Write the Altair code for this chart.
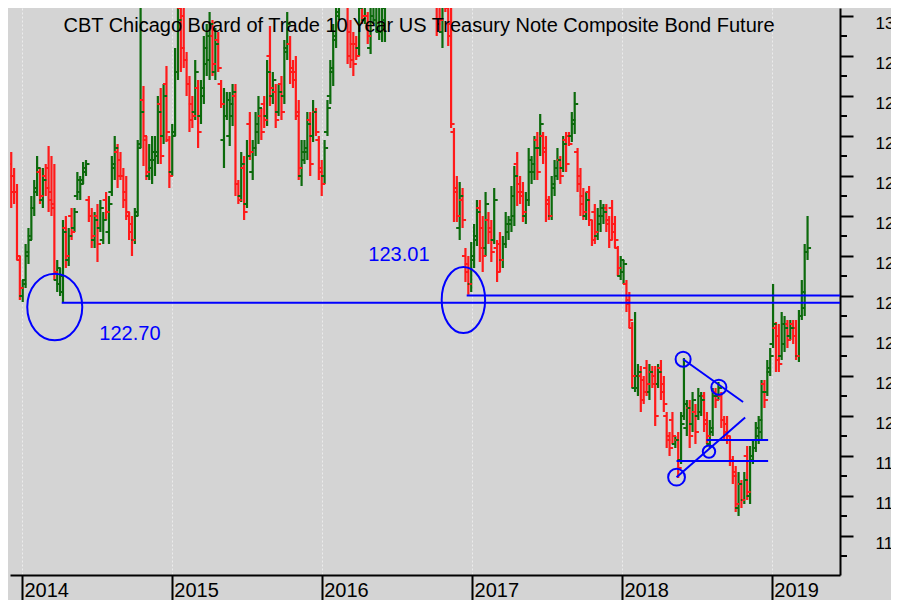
import altair as alt
import pandas as pd

# ---------------- weekly OHLC values ----------------
high = [126.6,126.2,125.8,124.0,123.4,124.3,124.7,125.5,125.9,126.5,
        126.2,126.2,126.3,126.75,126.5,126.3,123.9,123.7,124.9,125.0,
        124.7,125.2,125.2,126.1,126.0,126.35,126.4,125.5,125.2,125.1,
        125.3,125.4,125.1,125.6,125.5,126.5,127.0,126.8,126.6,126.2,
        126.0,125.1,125.0,125.2,126.9,130.6,128.25,127.0,126.8,127.0,
        127.0,128.0,128.2,128.3,128.75,127.0,127.3,129.2,130.6,130.8,
        130.7,129.1,128.5,128.0,128.9,128.4,128.4,129.5,129.8,130.1,
        129.9,129.7,129.6,128.4,128.2,128.1,128.1,128.3,128.3,125.9,
        126.6,126.5,126.9,127.6,126.9,127.6,128.0,127.7,128.0,128.9,
        129.75,128.6,128.3,128.3,128.5,129.4,130.1,129.5,128.9,129.0,
        127.9,126.9,126.9,127.6,127.6,127.9,127.7,127.0,126.4,126.9,
        127.9,128.9,129.8,130.4,131.0,131.2,131.5,130.6,129.9,129.6,
        129.5,130.5,130.6,130.8,130.1,130.25,130.7,131.0,130.8,130.5,
        131.2,131.8,132.0,131.6,131.5,132.4,132.8,134.0,134.6,134.4,
        133.6,133.5,133.4,133.1,132.6,132.9,132.8,132.0,131.0,130.7,
        130.8,130.9,130.35,130.3,127.2,126.0,125.85,125.7,124.2,124.0,
        124.35,124.8,125.4,125.4,125.0,125.6,125.1,124.9,125.7,124.4,
        124.6,124.5,125.1,125.0,125.75,126.25,126.6,126.0,125.85,125.6,
        126.7,126.5,127.0,127.1,127.55,127.1,127.0,125.5,126.0,126.4,
        126.7,126.5,127.0,127.1,127.1,127.6,128.1,126.7,126.2,125.7,
        125.6,125.75,124.9,125.3,125.2,125.4,125.3,125.3,125.0,125.4,
        125.0,124.25,124.0,123.9,123.4,123.1,122.35,122.6,121.3,121.25,
        121.0,121.4,121.3,121.25,121.25,121.3,121.4,121.0,120.1,119.6,
        120.1,119.5,119.6,120.1,121.45,120.4,120.4,120.6,120.3,120.7,
        120.6,120.6,120.1,119.9,120.7,120.7,120.85,120.6,120.0,120.0,
        119.5,119.0,118.75,118.6,118.4,118.6,119.25,119.25,119.4,119.85,
        120.0,120.9,120.9,121.4,121.7,123.3,122.35,122.3,122.6,122.5,
        122.4,122.4,122.4,122.4,122.65,123.4,124.3,125.0]
low = [125.2,125.3,123.9,122.9,122.85,123.2,123.8,124.4,125.0,125.5,
       125.3,125.2,125.5,125.1,125.0,123.4,123.1,123.0,122.85,123.7,
       123.75,124.4,124.6,125.4,125.4,125.8,126.0,124.85,124.2,124.2,
       123.85,124.6,124.3,124.9,124.3,125.5,125.9,125.7,125.9,125.2,
       124.9,124.4,124.0,124.3,125.0,126.7,126.25,125.9,125.9,125.8,
       126.0,126.3,126.3,126.8,126.85,125.7,126.0,127.0,128.4,128.6,
       128.7,128.0,127.1,127.2,127.4,126.7,127.3,127.8,128.5,128.4,
       128.5,128.4,128.6,127.7,126.2,127.4,126.75,127.25,125.5,125.3,
       125.35,124.9,125.2,126.4,125.9,126.5,126.8,126.9,127.2,127.25,
       127.75,127.8,127.2,127.5,127.4,127.8,128.9,128.3,128.2,127.4,
       125.9,125.75,126.3,126.4,126.0,126.85,127.0,125.9,125.5,125.8,
       127.0,127.8,128.25,129.2,129.9,130.3,130.4,128.8,128.7,128.5,
       128.9,129.0,129.8,129.8,129.3,129.05,129.8,129.6,129.4,129.35,
       129.35,130.6,130.9,130.7,130.6,131.1,131.8,132.1,133.1,133.0,
       132.6,132.4,132.4,131.9,131.6,131.8,131.6,130.8,129.5,129.6,
       129.2,130.1,129.25,127.2,124.85,124.85,124.4,124.7,123.35,123.03,
       123.1,123.7,124.25,123.85,123.6,124.0,124.3,123.85,124.3,123.35,
       123.6,123.7,124.2,124.4,124.6,124.75,125.25,125.3,124.85,124.8,
       125.25,125.8,125.9,125.9,126.5,126.3,124.85,124.9,124.9,125.5,
       125.9,125.8,126.1,126.1,126.75,126.85,127.05,125.6,125.0,124.9,
       124.9,124.75,124.25,124.3,124.4,124.6,124.8,124.6,124.2,124.4,
       124.2,123.5,123.4,123.3,122.6,122.2,120.7,120.6,120.5,120.1,
       120.3,120.5,120.4,120.7,119.75,120.7,120.4,120.1,119.2,119.0,
       119.3,119.2,118.45,118.8,119.9,119.5,119.2,119.6,119.3,119.9,
       120.0,119.6,119.3,119.2,119.5,120.2,120.4,119.7,119.4,119.3,
       118.75,118.3,117.6,117.5,117.7,117.8,117.9,117.8,118.8,119.1,
       119.3,119.4,120.2,120.5,121.0,121.7,121.1,121.1,121.4,121.6,
       121.7,121.9,121.8,121.4,121.35,122.4,122.5,123.9]
open_ = [126.3,126.0,125.6,123.9,123.0,123.4,124.0,124.5,125.2,125.6,
         126.1,125.4,126.0,126.2,125.6,125.3,123.4,123.3,123.1,124.7,
         123.9,125.0,124.7,125.5,125.6,125.9,126.1,125.4,125.0,124.4,
         125.0,124.7,124.4,125.4,124.6,125.6,126.2,126.6,126.4,126.0,
         125.6,125.0,124.8,124.4,125.1,126.8,127.9,126.9,126.0,126.2,
         126.4,126.5,127.8,127.0,128.3,126.9,126.1,127.1,128.6,130.2,
         130.0,128.9,128.3,127.8,127.6,128.2,127.5,128.0,128.8,128.9,
         129.5,128.6,129.4,128.3,126.9,127.5,127.0,127.5,128.0,125.8,
         125.5,126.2,125.3,127.3,126.1,126.7,127.1,127.5,127.8,127.5,
         129.0,128.0,128.1,127.6,128.3,128.0,129.2,129.3,128.7,128.6,
         127.5,126.0,126.4,126.6,127.4,127.0,127.6,126.9,126.2,126.0,
         127.1,128.0,128.6,129.4,130.0,130.5,131.2,130.4,129.6,129.3,
         129.3,129.2,130.4,129.9,130.0,129.2,130.0,129.9,129.6,129.6,
         129.9,130.9,131.5,131.2,130.9,131.3,132.2,132.5,133.6,134.2,
         133.3,133.1,132.8,133.0,132.1,132.3,132.6,131.8,130.9,130.3,
         129.6,130.6,130.2,129.8,127.1,125.7,124.7,125.4,124.0,123.8,
         123.3,123.9,124.4,125.2,124.7,124.2,124.9,124.7,124.4,124.2,
         124.3,123.9,124.3,124.6,124.8,125.0,126.3,125.8,125.6,125.0,
         125.4,126.1,126.1,126.9,126.7,127.0,126.7,125.4,125.0,125.7,
         126.0,126.4,126.2,126.9,127.0,127.0,127.3,126.6,126.0,125.5,
         125.0,125.6,124.9,125.1,124.5,124.8,125.0,125.2,124.9,125.2,
         124.8,124.2,123.5,123.6,123.3,122.9,122.2,120.7,120.7,121.0,
         120.9,121.2,120.6,121.1,121.0,120.8,121.2,120.8,120.0,119.5,
         119.9,119.3,119.4,118.9,120.0,119.7,120.2,119.8,120.1,120.0,
         120.1,120.5,119.9,119.3,119.6,120.6,120.5,120.5,119.9,119.8,
         119.4,118.9,118.6,117.7,118.3,117.9,119.0,118.0,118.9,119.2,
         119.5,119.6,120.8,120.6,121.1,121.8,122.2,122.0,121.5,121.8,
         122.3,122.0,122.3,122.2,121.5,122.5,122.7,124.1]
close = [125.6,125.6,124.0,123.2,123.3,124.1,124.4,125.2,125.7,126.2,
         125.5,125.9,125.7,125.4,125.2,123.6,123.7,123.5,124.6,124.0,
         124.5,124.6,125.1,125.9,125.8,126.2,126.3,125.0,124.5,124.9,
         124.3,125.2,124.9,125.1,125.3,126.3,126.7,126.0,126.0,125.4,
         125.1,124.6,124.4,125.0,126.7,127.6,127.0,126.1,126.4,126.6,
         126.6,127.6,126.5,128.0,127.1,126.0,127.0,128.6,129.9,129.2,
         128.9,128.3,127.4,127.5,128.6,127.1,128.2,129.2,129.5,129.8,
         128.8,129.3,128.7,127.8,127.5,127.9,127.8,128.1,125.8,125.4,
         126.3,125.1,126.5,126.6,126.7,127.3,127.7,127.1,127.4,128.6,
         128.2,128.4,127.4,128.1,127.6,129.1,129.8,128.6,128.4,127.6,
         126.2,126.6,126.7,127.3,126.3,127.6,127.1,126.1,125.8,126.7,
         127.7,128.7,129.5,130.1,130.7,131.0,130.6,129.0,128.9,128.8,
         129.0,130.2,130.0,130.5,129.5,130.0,130.5,130.8,130.4,130.2,
         130.9,131.5,131.2,130.9,131.3,132.2,132.5,133.6,134.2,133.3,
         133.1,132.8,133.0,132.1,132.3,132.6,131.8,131.1,129.8,129.9,
         130.5,130.3,129.5,127.3,125.6,125.0,125.5,124.9,123.6,123.3,
         124.0,124.5,125.1,124.2,124.0,125.3,124.6,124.1,125.4,123.6,
         123.9,124.3,124.8,124.9,125.5,126.0,125.6,125.5,125.1,125.4,
         126.4,126.3,126.7,126.1,127.3,126.6,125.3,125.0,125.8,126.2,
         126.4,126.0,126.8,126.3,126.8,127.4,127.8,125.8,125.3,125.1,
         125.4,124.9,124.4,124.6,125.0,125.2,125.1,124.8,124.4,124.6,
         124.4,123.7,123.9,123.8,122.8,122.4,121.0,121.0,121.1,120.4,
         120.6,120.8,121.1,120.8,120.0,121.1,120.6,120.3,119.4,119.2,
         119.5,119.4,118.7,119.8,120.3,120.2,119.5,120.4,119.6,120.5,
         120.4,119.8,119.5,119.7,120.5,120.4,120.7,119.9,119.6,119.5,
         118.9,118.5,117.8,118.3,117.9,118.4,118.1,119.0,119.2,119.7,
         119.9,120.6,120.4,121.2,121.5,122.3,121.4,121.3,122.3,122.2,
         121.9,122.2,122.0,121.5,122.5,123.1,124.1,124.2]
first_week = "2013-12-06"

# ---------------- annotations ----------------
title_text = "CBT Chicago Board of Trade 10 Year US Treasury Note Composite Bond Future"
seg_x = ["2016-12-19", "2014-04-08", "2018-05-30", "2018-05-14", "2018-07-26", "2018-05-14"]
seg_x2 = ["2019-06-16", "2019-06-16", "2018-10-23", "2018-10-28", "2018-12-23", "2018-12-23"]
seg_y = [123.01, 122.83, 121.42, 118.47, 119.40, 118.875]
seg_y2 = [123.01, 122.83, 120.35, 119.96, 119.40, 118.875]
label_text = ["123.01", "122.70"]
label_date = ["2016-07-07", "2014-09-21"]
label_value = [124.035, 122.04]
ell_date = ["2014-03-22", "2016-12-11"]
ell_value = [122.725, 122.90]
circ_date = ["2018-05-30", "2018-08-25", "2018-05-14", "2018-08-01"]
circ_value = [121.42, 120.72, 118.47, 119.11]
circ_size = [227, 227, 283, 154]
year_ticks = [2014, 2015, 2016, 2017, 2018, 2019]
major_ticks = list(range(117, 131))
minor_ticks = [116.5 + k for k in range(14)]
axis_end_date = "2019-06-16"

BG = "#d4d4d4"
RED = "#ff1a1a"
GREEN = "#0c6a0c"
BLUE = "#0000ff"
FONT = "Liberation Sans"

weeks = pd.date_range(first_week, periods=len(high), freq="7D")
bars = pd.DataFrame({
    "date": weeks.strftime("%Y-%m-%d"),
    "high": high, "low": low, "open": open_, "close": close,
})
bars["dir"] = ["up" if c >= o else "down" for o, c in zip(open_, close)]

segs = pd.DataFrame({"x": seg_x, "x2": seg_x2, "y": seg_y, "y2": seg_y2})
labels = pd.DataFrame({"date": label_date, "value": label_value, "text": label_text})
ells = pd.DataFrame({"date": ell_date, "value": ell_value})
circs = pd.DataFrame({"date": circ_date, "value": circ_value, "size": circ_size})
minor = pd.DataFrame({"date": [axis_end_date] * len(minor_ticks), "value": minor_ticks})

xscale = alt.Scale(type="utc", domain=[alt.DateTime(year=2013, month=12, date=3, utc=True),
                                       alt.DateTime(year=2019, month=6, date=16, utc=True)])
yscale = alt.Scale(domain=[116.025, 130.2], nice=False, zero=False)

xaxis = alt.Axis(
    values=[alt.DateTime(year=y, month=1, date=1, utc=True) for y in year_ticks],
    format="%Y", title=None, grid=True, gridColor="#ececec", gridDash=[2, 2], gridWidth=1,
    domainColor="black", domainWidth=2, tickColor="black", tickWidth=2, tickSize=25,
    labelAlign="left", labelBaseline="alphabetic", labelPadding=-4, labelOffset=2,
    labelFont=FONT, labelFontSize=20, labelColor="black", labelFlush=False, labelOverlap=False,
)
yaxis = alt.Axis(
    orient="right", values=major_ticks, title=None, grid=False, format="d",
    domainColor="black", domainWidth=2, tickColor="black", tickWidth=2, tickSize=13,
    labelPadding=22, labelAlign="left", labelBaseline="middle", labelOffset=7,
    labelFont=FONT, labelFontSize=17, labelColor="black", labelOverlap=False, labelFlush=False,
)

def X(field, axis=alt.Undefined):
    return alt.X(f"{field}:T", scale=xscale, axis=axis)

def Y(field, axis=alt.Undefined):
    return alt.Y(f"{field}:Q", scale=yscale, axis=axis)

color = alt.Color("dir:N", scale=alt.Scale(domain=["up", "down"], range=[GREEN, RED]), legend=None)

hl = alt.Chart(bars).mark_rule(strokeWidth=2.2, clip=True).encode(
    x=X("date", xaxis), y=Y("low", yaxis), y2="high:Q", color=color)
op = alt.Chart(bars).mark_tick(orient="horizontal", size=3, thickness=2, xOffset=-2, opacity=1, clip=True).encode(
    x=X("date"), y=Y("open"), color=color)
cl = alt.Chart(bars).mark_tick(orient="horizontal", size=3, thickness=2, xOffset=2, opacity=1, clip=True).encode(
    x=X("date"), y=Y("close"), color=color)

minor_layer = alt.Chart(minor).mark_tick(orient="horizontal", size=7, thickness=2, xOffset=3.5,
                                         color="black", opacity=1).encode(x=X("date"), y=Y("value"))

seg_layer = alt.Chart(segs).mark_rule(color=BLUE, strokeWidth=2, clip=True).encode(
    x=X("x"), x2="x2:T", y=Y("y"), y2="y2:Q")

ell1 = alt.Chart(ells.iloc[[0]]).mark_point(
    shape="M -0.826 0 A 0.826 1 0 1 1 0.826 0 A 0.826 1 0 1 1 -0.826 0 Z",
    size=4436, filled=False, color=BLUE, strokeWidth=2, opacity=1).encode(x=X("date"), y=Y("value"))
ell2 = alt.Chart(ells.iloc[[1]]).mark_point(
    shape="M -0.658 0 A 0.658 1 0 1 1 0.658 0 A 0.658 1 0 1 1 -0.658 0 Z",
    size=4356, filled=False, color=BLUE, strokeWidth=2, opacity=1).encode(x=X("date"), y=Y("value"))
circ_layer = alt.Chart(circs).mark_point(shape="circle", filled=False, color=BLUE, strokeWidth=2, opacity=1).encode(
    x=X("date"), y=Y("value"), size=alt.Size("size:Q", scale=None, legend=None))
text_layer = alt.Chart(labels).mark_text(font=FONT, fontSize=20, color=BLUE, align="center", baseline="middle").encode(
    x=X("date"), y=Y("value"), text="text:N")

chart = alt.layer(hl, op, cl, minor_layer, seg_layer, ell1, ell2, circ_layer, text_layer).properties(
    width=830, height=567,
    title=alt.TitleParams(text=title_text, font=FONT, fontSize=20, fontWeight="normal", color="black",
                          anchor="middle", frame="group", orient="top", offset=-44,
                          baseline="alphabetic", dx=-6),
    autosize=alt.AutoSizeParams(type="none"),
    padding={"left": 2, "top": 0, "right": 51, "bottom": 25},
    background=BG,
).configure_view(stroke=None, fill=BG)

chart.save("out.html", embed_options={"renderer": "svg", "actions": False})
